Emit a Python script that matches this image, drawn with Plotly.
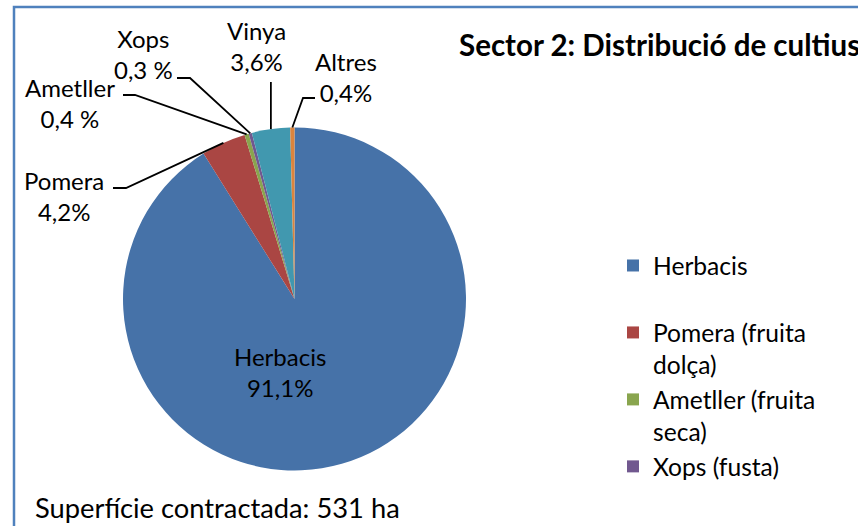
import math
import plotly.graph_objects as go

# ---------------- data ----------------
categories = ["Herbacis", "Pomera (fruita dolça)", "Ametller (fruita seca)",
              "Xops (fusta)", "Vinya", "Altres"]
legend_labels = ["Herbacis<br>\u00a0", "Pomera (fruita<br>dolça)", "Ametller (fruita<br>seca)",
                 "Xops (fusta)<br>\u00a0<br>\u00a0", "Vinya<br>\u00a0", "Altres<br>\u00a0"]
short_names = ["Herbacis", "Pomera", "Ametller", "Xops", "Vinya", "Altres"]
percentages = [91.1, 4.2, 0.4, 0.3, 3.6, 0.4]
value_texts = ["91,1%", "4,2%", "0,4 %", "0,3 %", "3,6%", "0,4%"]
title_text = "Sector 2: Distribució de cultius"
footer_text = "Superfície contractada: 531 ha"

# ---------------- style ----------------
colors = ["#4672A8", "#AA4643", "#89A54E", "#71588F", "#4198AF", "#DB843D"]
FONT = "Lato"
W, H = 858, 526
CX, CY, R = 294.5, 299.0, 171.5   # pie centre / radius in px


def px(x):
    return x / W


def py(y):
    return 1 - y / H


# label text centres and leader-line knee points (px)
label_pos = {
    "Herbacis": dict(text=(280, 371.5), knees=None),
    "Pomera": dict(text=(64, 196), knees=[(113, 188), (126, 188)]),
    "Ametller": dict(text=(70, 103), knees=[(123, 95), (135, 95)]),
    "Xops": dict(text=(143, 54), knees=[(177, 78), (190, 78)]),
    "Vinya": dict(text=(256, 46), knees=["vertical", 82]),
    "Altres": dict(text=(346, 77), knees=[(315, 98), (303, 98)]),
}

fig = go.Figure()
fig.add_trace(go.Pie(
    labels=legend_labels,
    values=percentages,
    sort=False,
    direction="clockwise",
    rotation=0,
    textinfo="none",
    hovertext=categories,
    hoverinfo="text+percent",
    marker=dict(colors=colors, line=dict(width=0)),
    domain=dict(x=[px(CX - R), px(CX + R)], y=[py(CY + R), py(CY - R)]),
    showlegend=True,
))

annotations = []
shapes = []
total = sum(percentages)
cum = 0.0
for name, val, vt in zip(short_names, percentages, value_texts):
    mid = (cum + val / 2) / total * 2 * math.pi
    cum += val
    ex = CX + R * math.sin(mid)
    ey = CY - R * math.cos(mid)
    lp = label_pos[name]
    tx, ty = lp["text"]
    annotations.append(dict(
        x=px(tx), y=py(ty), xref="paper", yref="paper",
        text=f"{name}<br>{vt}", showarrow=False,
        xanchor="center", yanchor="middle", align="center",
        font=dict(family=FONT, size=24, color="#000000"),
    ))
    k = lp["knees"]
    if k is None:
        continue
    if k[0] == "vertical":
        pts = [(ex, k[1]), (ex, ey)]
    else:
        pts = list(k) + [(ex, ey)]
    path = "M " + " L ".join(f"{px(a):.5f},{py(b):.5f}" for a, b in pts)
    shapes.append(dict(type="path", path=path, xref="paper", yref="paper",
                       line=dict(color="#000000", width=1.8)))

# chart border
shapes.append(dict(type="rect", xref="paper", yref="paper",
                   x0=px(14), x1=1.05, y0=-0.05, y1=py(7),
                   line=dict(color="#4F81BD", width=2.5), fillcolor="rgba(0,0,0,0)"))

annotations.append(dict(
    x=px(457), y=py(44), xref="paper", yref="paper", text=f"<b>{title_text}</b>",
    showarrow=False, xanchor="left", yanchor="middle",
    font=dict(family=FONT, size=29.5, color="#000000"),
))
annotations.append(dict(
    x=px(33), y=py(507), xref="paper", yref="paper", text=footer_text,
    showarrow=False, xanchor="left", yanchor="middle",
    font=dict(family=FONT, size=27.3, color="#000000"),
))

fig.update_layout(
    width=W, height=H,
    margin=dict(l=0, r=0, t=0, b=0, autoexpand=False),
    paper_bgcolor="#FFFFFF",
    plot_bgcolor="#FFFFFF",
    font=dict(family=FONT, size=24, color="#000000"),
    legend=dict(
        x=px(613), y=py(243), xanchor="left", yanchor="top",
        valign="top", font=dict(family=FONT, size=24.6, color="#000000"),
        bgcolor="rgba(0,0,0,0)", borderwidth=0, maxheight=1000,
        tracegroupgap=0,
    ),
    annotations=annotations,
    shapes=shapes,
)

fig.write_html("out.html",
               config={"displayModeBar": False},
               post_script="document.body.style.margin='0px';document.body.style.overflow='hidden';")
